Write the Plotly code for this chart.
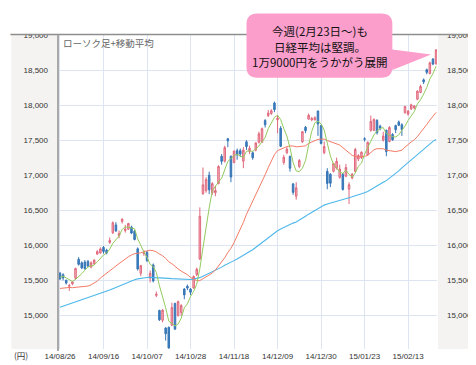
import plotly.graph_objects as go

dates = [
    "2014-08-26","2014-08-27","2014-08-28","2014-08-29",
    "2014-09-01","2014-09-02","2014-09-03","2014-09-04","2014-09-05","2014-09-08","2014-09-09","2014-09-10",
    "2014-09-11","2014-09-12","2014-09-16","2014-09-17","2014-09-18","2014-09-19","2014-09-22","2014-09-24",
    "2014-09-25","2014-09-26","2014-09-29","2014-09-30",
    "2014-10-01","2014-10-02","2014-10-03","2014-10-06","2014-10-07","2014-10-08","2014-10-09","2014-10-10",
    "2014-10-14","2014-10-15","2014-10-16","2014-10-17","2014-10-20","2014-10-21","2014-10-22","2014-10-23",
    "2014-10-24","2014-10-27","2014-10-28","2014-10-29","2014-10-30","2014-10-31",
    "2014-11-04","2014-11-05","2014-11-06","2014-11-07","2014-11-10","2014-11-11","2014-11-12","2014-11-13",
    "2014-11-14","2014-11-17","2014-11-18","2014-11-19","2014-11-20","2014-11-21","2014-11-25","2014-11-26",
    "2014-11-27","2014-11-28",
    "2014-12-01","2014-12-02","2014-12-03","2014-12-04","2014-12-05","2014-12-08","2014-12-09","2014-12-10",
    "2014-12-11","2014-12-12","2014-12-15","2014-12-16","2014-12-17","2014-12-18","2014-12-19","2014-12-22",
    "2014-12-24","2014-12-25","2014-12-26","2014-12-29","2014-12-30",
    "2015-01-05","2015-01-06","2015-01-07","2015-01-08","2015-01-09","2015-01-13","2015-01-14","2015-01-15",
    "2015-01-16","2015-01-19","2015-01-20","2015-01-21","2015-01-22","2015-01-23","2015-01-26","2015-01-27",
    "2015-01-28","2015-01-29","2015-01-30",
    "2015-02-02","2015-02-03","2015-02-04","2015-02-05","2015-02-06","2015-02-09","2015-02-10","2015-02-12",
    "2015-02-13","2015-02-16","2015-02-17","2015-02-18","2015-02-19","2015-02-20","2015-02-23","2015-02-24",
    "2015-02-25","2015-02-26",
]

opens = [
    15600,15580,15500,15415,15450,15530,15800,15750,15760,15770,15690,15740,15875,15890,15970,15930,
    16040,16180,16290,16140,16340,16210,16230,16260,16200,15950,15600,15880,15900,15530,15720,15285,
    15070,14930,14820,14830,14860,15170,15000,15040,15375,15415,15375,15390,15583,15805,
    16736,16780,17000,16750,16750,16880,17270,17200,17520,17270,17180,17350,17350,17200,17476,17340,
    17320,17360,17470,17470,17780,17850,17880,18030,17790,17670,17180,17320,17268,16875,16700,17125,
    17476,17685,17800,17790,17790,17916,17708,
    17320,17055,17014,17055,17100,16970,17014,16986,16800,16960,17055,17230,17250,17520,17290,17640,
    17640,17780,17700,17500,17640,17480,17580,17708,17760,17720,17890,17870,17945,17960,18083,18180,
    18360,18505,18449,18657,18587,
]
highs = [
    15620,15600,15510,15450,15490,15680,15830,15770,15790,15790,15770,15800,15930,15970,15990,15950,
    16110,16340,16330,16210,16380,16290,16320,16280,16220,15970,15720,15930,15920,15640,15740,15340,
    15080,15090,14830,14840,15180,15180,15210,15160,15390,15440,15390,15570,15680,16540,
    17110,16970,17050,16900,16850,17140,17300,17420,17530,17280,17350,17380,17380,17400,17500,17420,
    17340,17470,17620,17680,17800,17930,17940,18050,17860,17700,17290,17400,17280,16890,16900,17230,
    17630,17700,17880,17830,17840,17920,17720,
    17480,17100,17030,17170,17250,17150,17030,17160,16900,17030,17390,17300,17340,17540,17480,17850,
    17810,17800,17720,17620,17650,17700,17600,17720,17780,17740,17990,17930,18020,18000,18210,18290,
    18380,18520,18620,18670,18800,
]
lows = [
    15505,15500,15440,15350,15430,15510,15710,15660,15650,15690,15670,15720,15860,15880,15880,15870,
    16020,16160,16190,16100,16310,16180,16220,16160,16070,15640,15560,15850,15760,15470,15470,15260,
    14920,14900,14640,14529,14850,14790,14980,14990,15230,15360,15290,15380,15560,15790,
    16720,16750,16730,16720,16700,16870,17150,17180,17400,16900,17170,17220,17260,17100,17360,17300,
    17220,17340,17450,17460,17680,17830,17860,17900,17600,17400,17150,17300,17050,16720,16650,17100,
    17460,17600,17790,17770,17780,17560,17440,
    17300,16800,16830,17040,17080,16950,16780,16970,16590,16940,17040,17200,17230,17480,17280,17620,
    17630,17580,17640,17480,17270,17470,17490,17600,17700,17560,17880,17850,17930,17940,18070,18170,
    18300,18440,18440,18570,18580,
]
closes = [
    15521,15535,15460,15425,15477,15669,15728,15676,15669,15705,15749,15789,15909,15948,15912,15889,
    16068,16321,16206,16167,16374,16230,16311,16174,16082,15662,15709,15891,15784,15600,15490,15301,
    14937,15074,14738,14533,15111,14804,15196,15139,15292,15389,15330,15554,15658,16414,
    16862,16937,16792,16880,16781,17124,17197,17393,17491,16974,17344,17289,17301,17358,17408,17384,
    17249,17460,17590,17663,17720,17887,17920,17936,17813,17413,17257,17372,17099,16755,16820,17210,
    17621,17635,17854,17809,17819,17730,17451,
    17409,16883,16885,17167,17198,17088,16796,17109,16864,17014,17366,17280,17329,17512,17469,17768,
    17796,17606,17674,17558,17336,17679,17505,17649,17712,17653,17980,17913,18005,17987,18199,18265,
    18332,18467,18603,18585,18786,
]

# moving averages (5-day green, 25-day red, 75-day blue)
ma5 = [
    15543,15559,15534,15511,15484,15513,15552,15595,15644,15689,15705,15718,15764,15820,15861,15889,
    15945,16028,16079,16130,16227,16260,16258,16251,16234,16092,15988,15904,15826,15729,15695,15613,
    15422,15280,15108,14917,14879,14852,14876,14957,15108,15164,15269,15341,15445,15669,
    15964,16285,16533,16777,16850,16903,16955,17075,17197,17236,17280,17298,17280,17253,17340,17348,
    17340,17372,17418,17469,17536,17664,17756,17825,17855,17794,17668,17558,17391,17179,17061,17051,
    17101,17208,17428,17626,17748,17769,17733,
    17644,17458,17272,17159,17108,17044,17027,17072,17011,16974,17030,17127,17171,17300,17391,17472,
    17575,17630,17663,17680,17594,17571,17550,17545,17576,17640,17700,17781,17853,17908,18017,18074,
    18158,18250,18373,18450,18555,
]
ma25 = [
    15384,15392,15399,15398,15395,15398,15401,15403,15409,15418,15435,15460,15488,15534,15566,15595,
    15629,15669,15705,15739,15776,15807,15836,15861,15880,15885,15892,15910,15924,15929,15922,15905,
    15875,15851,15813,15764,15737,15693,15663,15632,15608,15581,15541,15515,15495,15496,
    15521,15546,15571,15603,15648,15704,15757,15821,15897,15956,16038,16132,16221,16326,16441,16532,
    16629,16720,16818,16913,17006,17108,17203,17294,17350,17372,17385,17408,17417,17416,17404,17404,
    17413,17419,17454,17473,17494,17511,17515,
    17515,17495,17480,17469,17453,17430,17393,17362,17320,17283,17265,17260,17263,17268,17283,17323,
    17362,17378,17380,17377,17357,17351,17339,17336,17346,17356,17400,17441,17474,17506,17550,17609,
    17658,17722,17786,17834,17895,
]
ma75 = [
    15115,15130,15144,15158,15172,15187,15202,15217,15232,15247,15262,15278,15294,15310,15326,15343,
    15361,15380,15399,15418,15436,15455,15474,15492,15508,15520,15530,15537,15541,15542,15541,15539,
    15536,15533,15530,15527,15524,15521,15518,15516,15514,15513,15512,15517,15523,15538,
    15558,15579,15598,15620,15639,15663,15688,15714,15740,15758,15781,15803,15827,15852,15880,15910,
    15937,15972,16005,16038,16072,16106,16141,16176,16207,16233,16256,16280,16300,16316,16333,16357,
    16386,16415,16444,16472,16500,16528,16551,
    16573,16588,16601,16617,16634,16650,16660,16670,16679,16691,16704,16718,16731,16749,16768,16796,
    16824,16846,16872,16898,16922,16954,16988,17023,17062,17104,17142,17184,17221,17259,17298,17336,
    17376,17415,17454,17483,17509,
]

tick_dates = ["2014-08-26","2014-09-16","2014-10-07","2014-10-28","2014-11-18",
              "2014-12-09","2014-12-30","2015-01-23","2015-02-13"]
tick_labels = ["14/08/26","14/09/16","14/10/07","14/10/28","14/11/18",
               "14/12/09","14/12/30","15/01/23","15/02/13"]
y_ticks = [15000, 15500, 16000, 16500, 17000, 17500, 18000, 18500, 19000]

title_text = "ローソク足+移動平均"
callout_lines = ["今週(2月23日～)も", "日経平均は堅調。", "1万9000円をうかがう展開"]
unit_text = "(円)"

W, H = 476, 365
L, R, T, B = 50, 44, 27, 15
PW, PH = W - L - R, H - T - B


def px(x):
    return (x - L) / PW


def py(y):
    return (H - B - y) / PH


NUM_FONT = "Liberation Sans, Arial, sans-serif"
JP_FONT = "Noto Sans CJK JP, sans-serif"
GRID = "#dde5f3"

fig = go.Figure()

fig.add_trace(go.Candlestick(
    x=dates, open=opens, high=highs, low=lows, close=closes,
    increasing=dict(line=dict(color="#e0687c", width=1), fillcolor="#f3b5c1"),
    decreasing=dict(line=dict(color="#3776b6", width=1), fillcolor="#3d7fc0"),
    whiskerwidth=0, hoverinfo="skip", showlegend=False,
))
fig.add_trace(go.Scatter(x=dates, y=ma75, mode="lines",
                         line=dict(color="#4db7ea", width=1.1), hoverinfo="skip", showlegend=False))
fig.add_trace(go.Scatter(x=dates, y=ma25, mode="lines",
                         line=dict(color="#f47b66", width=1), hoverinfo="skip", showlegend=False))
fig.add_trace(go.Scatter(x=dates, y=ma5, mode="lines",
                         line=dict(color="#93ca5e", width=1), hoverinfo="skip", showlegend=False))
# invisible trace to carry right-hand axis
fig.add_trace(go.Scatter(x=[dates[0], dates[0]], y=[14520, 19000], yaxis="y2", mode="markers",
                         marker=dict(opacity=0), hoverinfo="skip", showlegend=False))

shapes = []
shapes.append(dict(type="rect", xref="paper", yref="paper", x0=px(3), x1=px(50), y0=py(350), y1=py(27),
                   fillcolor="#f4f3f1", line=dict(width=0), layer="below"))
shapes.append(dict(type="rect", xref="paper", yref="paper", x0=px(433), x1=px(476), y0=py(350), y1=py(27),
                   fillcolor="#f4f3f1", line=dict(width=0), layer="below"))
shapes.append(dict(type="rect", xref="paper", yref="paper", x0=px(-5), x1=px(481), y0=py(26), y1=py(-5),
                   fillcolor="white", line=dict(width=0), layer="above"))
shapes.append(dict(type="line", xref="paper", yref="paper", x0=px(2), x1=px(476), y0=py(26.5), y1=py(26.5),
                   line=dict(color="#8e8e8e", width=1.5), layer="above"))
shapes.append(dict(type="line", xref="paper", yref="paper", x0=px(50), x1=px(50), y0=py(27), y1=py(352),
                   line=dict(color="#a9a9a9", width=2), layer="above"))

x0, x1, y0, y1, r = 240, 387, 5, 71, 11
tip = (426, 47)
pts = [
    f"M {px(x0 + r)},{py(y0)}",
    f"L {px(x1 - r)},{py(y0)}",
    f"Q {px(x1)},{py(y0)} {px(x1)},{py(y0 + r)}",
    f"L {px(x1)},{py(42)}",
    f"L {px(tip[0])},{py(tip[1])}",
    f"L {px(x1)},{py(63)}",
    f"L {px(x1)},{py(y1 - r)}",
    f"Q {px(x1)},{py(y1)} {px(x1 - r)},{py(y1)}",
    f"L {px(x0 + r)},{py(y1)}",
    f"Q {px(x0)},{py(y1)} {px(x0)},{py(y1 - r)}",
    f"L {px(x0)},{py(y0 + r)}",
    f"Q {px(x0)},{py(y0)} {px(x0 + r)},{py(y0)}",
    "Z",
]
shapes.append(dict(type="path", xref="paper", yref="paper", path=" ".join(pts),
                   fillcolor="#fb9ecc", line=dict(width=0), layer="above"))

annotations = [
    dict(text=title_text, xref="paper", yref="paper", x=px(53), y=py(35), xanchor="left", yanchor="middle",
         showarrow=False, font=dict(family=JP_FONT, size=9.5, color="#666666")),
    dict(text=unit_text, xref="paper", yref="paper", x=px(13), y=py(356), xanchor="center", yanchor="middle",
         showarrow=False, font=dict(family=JP_FONT, size=8.5, color="#333333")),
]
for txt, yy in zip(callout_lines, [22.5, 39, 55]):
    annotations.append(dict(text=txt, xref="paper", yref="paper", x=px(314), y=py(yy),
                            xanchor="center", yanchor="middle", showarrow=False,
                            font=dict(family=JP_FONT, size=11.5, color="#111111")))

yax = dict(range=[14520, 19000], tickvals=y_ticks, tickformat=",", showline=False, zeroline=False,
           tickfont=dict(family=NUM_FONT, size=8, color="#333333"), ticks="",
           ticklabelstandoff=9, fixedrange=True)

fig.update_layout(
    width=W, height=H, autosize=False,
    margin=dict(l=L, r=R, t=T, b=B, pad=0),
    paper_bgcolor="white", plot_bgcolor="white",
    showlegend=False,
    xaxis=dict(type="category", range=[-0.64, 121.3], tickvals=tick_dates, ticktext=tick_labels,
               showgrid=True, gridcolor=GRID, gridwidth=1, zeroline=False, showline=False, ticks="",
               tickfont=dict(family=NUM_FONT, size=8, color="#333333"), ticklabelstandoff=1,
               rangeslider=dict(visible=False), fixedrange=True, tickangle=0),
    yaxis=dict(**yax, showgrid=True, gridcolor=GRID, gridwidth=1),
    yaxis2=dict(**yax, overlaying="y", side="right", showgrid=False),
    shapes=shapes,
    annotations=annotations,
)

fig.write_html("out.html")
